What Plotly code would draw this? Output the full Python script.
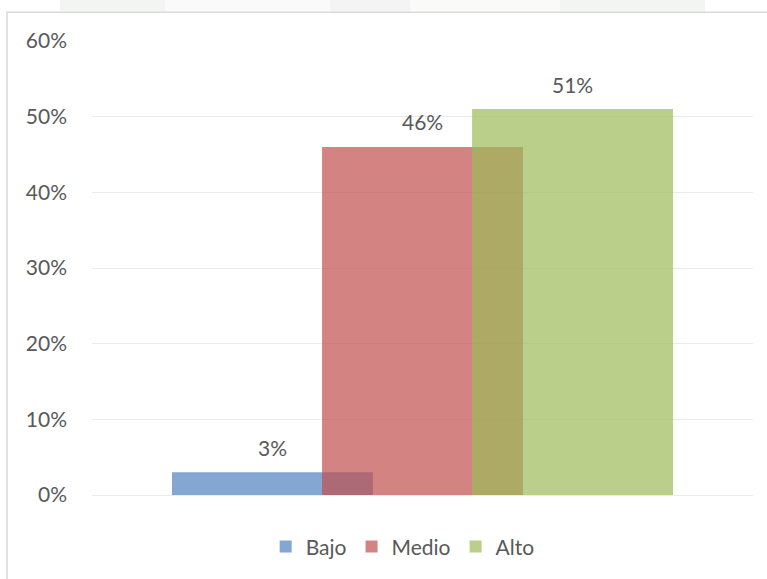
import plotly.graph_objects as go

# Distribution by level (share of respondents)
categorias = ["Bajo", "Medio", "Alto"]
porcentajes = [3, 46, 51]
colores = ["rgba(79,129,189,0.7)", "rgba(192,80,77,0.7)", "rgba(155,187,89,0.7)"]

# bar geometry inside the single category slot (category units)
offsets = [-0.379, -0.152, 0.075]
ancho = 0.304

grupo = [""]
FONT = "Lato, Calibri, Arial, sans-serif"
GRIS = "#595959"

fig = go.Figure()
for nombre, valor, color, off in zip(categorias, porcentajes, colores, offsets):
    fig.add_trace(go.Bar(
        x=grupo, y=[valor / 100], name=nombre,
        marker=dict(color=color, line=dict(width=0)),
        offset=off, width=ancho,
        hoverinfo="skip",
    ))
    fig.add_annotation(
        x=0 + off + ancho / 2, y=valor / 100, xref="x", yref="y",
        text=f"{valor}%", showarrow=False, yanchor="middle", yshift=25,
        font=dict(family=FONT, size=21, color=GRIS),
    )

fig.update_layout(
    barmode="overlay",
    width=767, height=579,
    margin=dict(l=92, r=14, t=41, b=82),
    paper_bgcolor="white", plot_bgcolor="white",
    font=dict(family=FONT, size=21, color=GRIS),
    showlegend=True,
    legend=dict(
        orientation="h", x=0.47, xanchor="center", y=-0.114, yanchor="middle",
        font=dict(family=FONT, size=21, color=GRIS),
        itemwidth=30, traceorder="normal", bgcolor="rgba(0,0,0,0)",
    ),
    xaxis=dict(range=[-0.5, 0.5], showticklabels=False, showgrid=False,
               zeroline=False, showline=False, fixedrange=True),
    yaxis=dict(range=[0, 0.6], dtick=0.1, tickformat=".0%",
               showgrid=True, gridcolor="#EBEBEB", gridwidth=1,
               zeroline=True, zerolinecolor="#EBEBEB", zerolinewidth=1,
               showline=False, ticks="", ticklabelstandoff=24,
               tickfont=dict(family=FONT, size=21, color=GRIS)),
)

# chart frame (light grey border extending past the page edge)
fig.add_shape(type="rect", xref="paper", yref="paper",
              x0=(7 - 92) / 661, x1=(775 - 92) / 661,
              y0=(497 - 590) / 456, y1=(497 - 12) / 456,
              line=dict(color="#D9D9D9", width=1.5), fillcolor="rgba(0,0,0,0)",
              layer="below")

# faint background emblem showing above the frame
for x0, x1, col in [(60, 165, "rgba(170,185,160,0.14)"),
                    (165, 330, "rgba(200,205,195,0.10)"),
                    (330, 410, "rgba(170,175,170,0.14)"),
                    (410, 560, "rgba(205,210,200,0.10)"),
                    (560, 705, "rgba(170,185,160,0.14)")]:
    fig.add_shape(type="rect", xref="paper", yref="paper",
                  x0=(x0 - 92) / 661, x1=(x1 - 92) / 661,
                  y0=(497 - 11) / 456, y1=(497 + 5) / 456,
                  line=dict(width=0), fillcolor=col, layer="below")

fig.write_html("out.html")
